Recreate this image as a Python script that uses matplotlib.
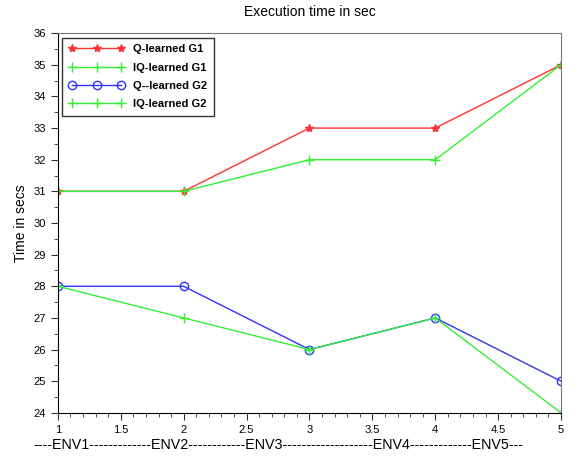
import matplotlib
matplotlib.use('Agg')
import matplotlib.pyplot as plt
from matplotlib.ticker import MultipleLocator

plt.rcParams['font.family'] = ['Liberation Sans', 'DejaVu Sans']

env = [1, 2, 3, 4, 5]
q_g1 = [31, 31, 33, 33, 35]
iq_g1 = [31, 31, 32, 32, 35]
q_g2 = [28, 28, 26, 27, 25]
iq_g2 = [28, 27, 26, 27, 24]

fig = plt.figure(figsize=(5.85, 4.67), dpi=100)
ax = fig.add_axes([0.099, 0.116, 0.860, 0.813])

ax.plot(env, q_g1, color='#ff3333', marker='*', markersize=6, lw=1, label='Q-learned G1')
ax.plot(env, iq_g1, color='#33ee33', marker='+', markersize=7, lw=1, label='IQ-learned G1')
ax.plot(env, q_g2, color='#3333ff', marker='o', markersize=6, mfc='none', lw=1, label='Q--learned G2')
ax.plot(env, iq_g2, color='#33ee33', marker='+', markersize=7, lw=1, label='IQ-learned G2')

ax.set_xlim(1, 5)
ax.set_ylim(24, 36)
ax.xaxis.set_major_locator(MultipleLocator(0.5))
ax.xaxis.set_minor_locator(MultipleLocator(0.1))
ax.yaxis.set_major_locator(MultipleLocator(1))
ax.yaxis.set_minor_locator(MultipleLocator(0.5))
ax.xaxis.set_major_formatter(plt.FuncFormatter(lambda v, p: f'{v:g}'))
ax.tick_params(which='major', length=5, labelsize=8, color='#333333')
ax.tick_params(which='minor', length=3, color='#333333')
for s in ['top', 'right']:
    ax.spines[s].set_color('#777777')

ax.set_title('Execution time in sec', fontsize=10, pad=12)
ax.set_ylabel('Time in secs', fontsize=10)
fig.text(33 / 585, 1 - 445 / 467,
         '----ENV1-------------ENV2------------ENV3-------------------ENV4-------------ENV5---',
         fontsize=10.3, ha='left', va='center')

leg = ax.legend(loc='upper left', fancybox=False, edgecolor='black',
                prop={'weight': 'bold', 'size': 8}, handlelength=5, numpoints=3,
                labelspacing=0.75, borderaxespad=0.4, borderpad=0.6)
leg.get_frame().set_linewidth(1)

fig.savefig('out.png', dpi=100)
